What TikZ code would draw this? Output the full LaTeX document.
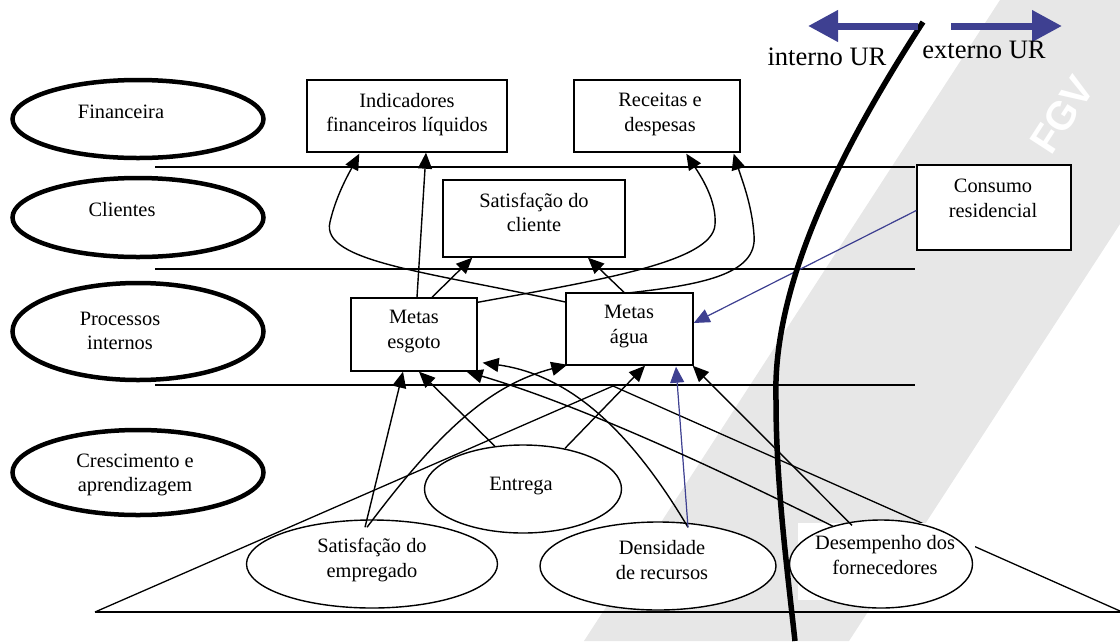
\documentclass[tikz,border=0pt]{standalone}
\usepackage{fontspec}
\setmainfont{Liberation Serif}
\setsansfont{Liberation Sans}
\usetikzlibrary{arrows.meta,shapes.geometric,calc}
\definecolor{navy}{RGB}{62,64,145}
\definecolor{wm}{RGB}{231,231,231}
\begin{document}
\begin{tikzpicture}[x=1pt,y=-1pt,font=\fontsize{20.4}{24.5}\selectfont,
  lens/.style={ellipse,draw,line width=4.5pt,minimum width=251pt,inner sep=0pt},
  oval/.style={ellipse,draw,line width=1.4pt,fill=white,inner sep=0pt,minimum height=88pt},
  box/.style={rectangle,draw,line width=1.4pt,fill=white,inner sep=0pt},
  txt/.style={align=center,inner sep=0pt},
  conn/.style={line width=1.4pt,-{Triangle[length=16pt,width=14pt]}},
  bconn/.style={draw=navy,line width=1.2pt,-{Triangle[length=16pt,width=14pt]},fill=navy},
  rule/.style={line width=1.3pt},
  bigarrow/.style={draw=navy,line width=7pt,-{Triangle[length=30pt,width=30pt]}}]
\useasboundingbox (0,0) rectangle (1120,641);
% watermark
\fill[wm] (1000,0) -- (1120,0) -- (1120,224) -- (849,641) -- (584,641) -- cycle;
\node[rotate=57,text=white,font=\sffamily\bfseries\fontsize{40}{40}\selectfont,inner sep=0pt] (wmark) at (1062,115) {FGV};
% separators
\draw[rule] (155,167) -- (915,167);
\draw[rule] (155,269) -- (915,269);
\draw[rule] (155,385) -- (915,385);
\draw[rule] (95,612) -- (613,386) -- (1120,611);
\draw[rule] (95,612) -- (1120,612);
% left perspective ellipses
\node[lens,minimum height=78pt] (fin) at (138,119) {};
\node[txt] (finT) at (121,112) {Financeira};
\node[lens,minimum height=79pt] (cli) at (138,217.5) {};
\node[txt] (cliT) at (122,210) {Clientes};
\node[lens,minimum height=97pt] (proc) at (138,331.5) {};
\node[txt] (procT) at (120,331) {Processos\\internos};
\node[lens,minimum height=85pt] (cres) at (138,472.5) {};
\node[txt] (cresT) at (135,475) {Crescimento e\\aprendizagem};
% boxes
\node[box,minimum width=200pt,minimum height=72pt] (ind) at (407,116) {};
\node[txt] (indT) at (407,114.5) {Indicadores\\financeiros líquidos};
\node[box,minimum width=166pt,minimum height=72pt] (rec) at (657,116) {};
\node[txt] (recT) at (660,114.5) {Receitas e\\despesas};
\node[box,minimum width=182pt,minimum height=77pt] (satc) at (534,218.5) {};
\node[txt] (satcT) at (534,212.5) {Satisfação do\\cliente};
\node[box,minimum width=126pt,minimum height=73pt] (esg) at (414,334.5) {};
\node[txt] (esgT) at (414,331.5) {Metas\\esgoto};
\node[box,minimum width=127pt,minimum height=72pt] (agua) at (629.5,329) {};
\node[txt] (aguaT) at (629,326.5) {Metas\\água};
\node[box,minimum width=154pt,minimum height=85pt] (cons) at (994,207.5) {};
\node[txt] (consT) at (993,198.5) {Consumo\\residencial};
% lower ellipses
\node[oval,minimum width=197pt] (ent) at (523,489) {};
\node[txt] (entT) at (521,486) {Entrega};
\node[oval,minimum width=251pt] (emp) at (372,564) {};
\node[txt] (empT) at (372,560) {Satisfação do\\empregado};
\node[oval,minimum width=236pt] (dens) at (658,566) {};
\node[txt] (densT) at (662,560) {Densidade\\de recursos};
\fill[white] (798,523) rectangle (975,600);
\node[oval,minimum width=183pt] (des) at (881,564) {};
\node[txt] (desT) at (885,555) {Desempenho dos\\fornecedores};
% connectors
\draw[conn] ($(agua.west)+(0,-27)$) .. controls (430,272) and (320,262) .. (330,222)
  .. controls (336,196) and (348,175) .. ($(ind.south west)+(53,1)$);
\draw[conn] ($(esg.north)+(3,0)$) -- ($(ind.south)+(19,0)$);
\draw[conn] ($(esg.north)+(18,0)$) -- ($(satc.south west)+(30,0)$);
\draw[conn] ($(esg.north east)+(0,5)$) .. controls (600,280) and (712,262) .. (715,225)
  .. controls (717,200) and (700,175) .. ($(rec.south west)+(113,1)$);
\draw[conn] ($(agua.north)+(-4.5,1)$) .. controls (700,285) and (758,275) .. (754,235)
  .. controls (752,205) and (742,180) .. ($(rec.south east)+(-7,1)$);
\draw[conn] ($(agua.north)+(-4.5,1)$) -- ($(satc.south)+(54,0)$);
\draw[bconn] ($(cons.west)+(0,3)$) -- ($(agua.east)+(0,-6)$);
\draw[conn] ($(emp.north)+(-7,8)$) -- ($(esg.south)+(-11,0)$);
\draw[conn] ($(emp.north)+(-5,8)$) .. controls (440,430) and (490,385) .. ($(agua.south west)+(2,-1)$);
\draw[conn] ($(ent.north)+(-28,2)$) -- ($(esg.south)+(5,0)$);
\draw[conn] ($(ent.north)+(42,4)$) -- ($(agua.south)+(15.5,0)$);
\draw[conn] ($(dens.north)+(30,6)$) .. controls (630,430) and (570,375) .. ($(esg.south east)+(5,-9)$);
\draw[bconn] ($(dens.north)+(30,6)$) -- ($(agua.south)+(46.5,1)$);
\draw[conn] ($(des.north)+(-48,7)$) .. controls (720,470) and (580,405) .. ($(esg.south east)+(-11,0)$);
\draw[conn] ($(des.north)+(-29,6)$) -- ($(agua.south east)+(-1,0)$);
% boundary curve and direction arrows
\coordinate (bTop) at (923,22);
\coordinate (bMid) at (776,400);
\coordinate (bBot) at (795,641);
\draw[line width=5.5pt] (bTop) .. controls (840,150) and (772,285) .. (bMid)
  .. controls (776,480) and (786,560) .. (bBot);
\coordinate (aL) at (918,26);
\coordinate (aLt) at (808,26);
\coordinate (aR) at (951,26);
\coordinate (aRt) at (1062,26);
\draw[bigarrow] (aL) -- (aLt);
\draw[bigarrow] (aR) -- (aRt);
\node[txt,font=\fontsize{26.6}{30}\selectfont] (intT) at (827,57) {interno UR};
\node[txt,font=\fontsize{26.6}{30}\selectfont] (extT) at (984,50) {externo UR};
\end{tikzpicture}
\end{document}
